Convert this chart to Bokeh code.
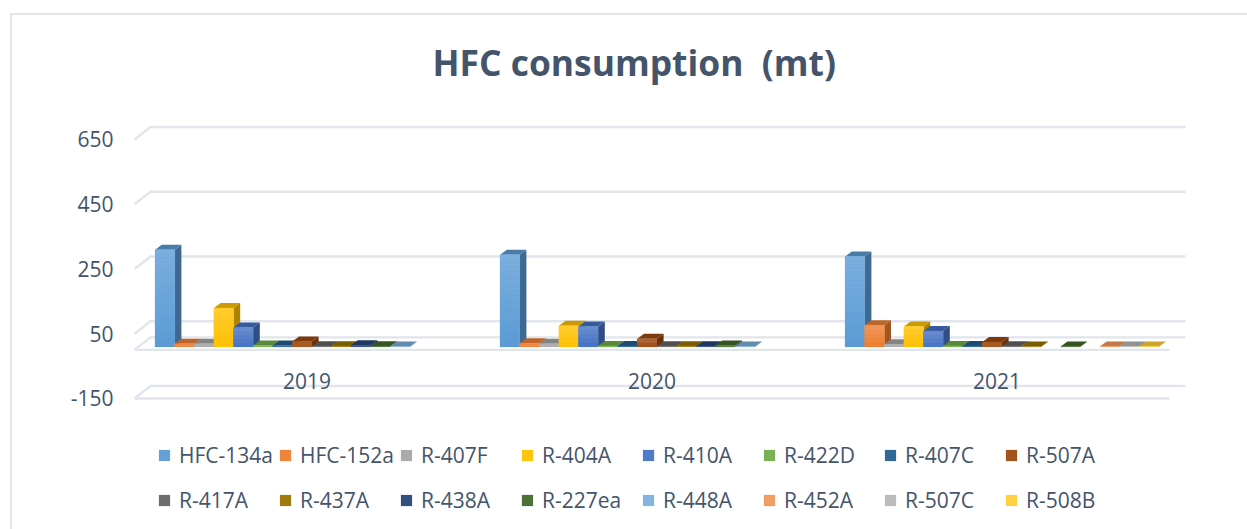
from bokeh.plotting import figure
from bokeh.embed import file_html
from bokeh.resources import INLINE
from bokeh.models import (Range1d, FixedTicker, Legend, LegendItem, LinearAxis, Title)

# ---- data -----------------------------------------------------------------
years = ["2019", "2020", "2021"]
y_ticks = [-150, 50, 250, 450, 650]
y_tick_labels = ["-150", "50", "250", "450", "650"]
title_text = "HFC consumption \u00a0(mt)"
series_names = ["HFC-134a", "HFC-152a", "R-407F", "R-404A", "R-410A", "R-422D", "R-407C", "R-507A",
                "R-417A", "R-437A", "R-438A", "R-227ea", "R-448A", "R-452A", "R-507C", "R-508B"]
hfc_134a = [300, 285, 279]
hfc_152a = [10, 11, 67]
r_407f = [10, 10, 8]
r_404a = [120, 65, 63]
r_410a = [60, 63, 49]
r_422d = [4, 3, 3]
r_407c = [4, 3, 3]
r_507a = [17, 25, 15]
r_417a = [2, 2, 2]
r_437a = [2, 2, 1]
r_438a = [5, 2, None]
r_227ea = [2, 4, 1]
r_448a = [1, 1, None]
r_452a = [None, None, 1]
r_507c = [None, None, 1]
r_508b = [None, None, 1]
all_series = [hfc_134a, hfc_152a, r_407f, r_404a, r_410a, r_422d, r_407c, r_507a,
              r_417a, r_437a, r_438a, r_227ea, r_448a, r_452a, r_507c, r_508b]
colors = ["#5B9BD5", "#ED7D31", "#A5A5A5", "#FFC000", "#4472C4", "#70AD47", "#255E91", "#9E480E",
          "#636363", "#997300", "#264478", "#43682B", "#7CAFDD", "#F1975A", "#B7B7B7", "#FFCD33"]

# ---- layout constants (page pixels) ---------------------------------------
W, H = 1247, 529
ML, MT = 130, 95
FL, FR, FT, FB = ML, W, MT, H     # frame box on the page
PX_CAT = 345.0          # pixels per category
PX_UNIT = 0.32375       # pixels per value unit
X0_PAGE, Y0_PAGE = 306.5, 349.4    # page position of category 0 / value 0 on the front plane
WALL_DX, WALL_DY = 16 / PX_CAT, 12.5 / PX_UNIT    # depth of the chart box
BAR_DX, BAR_DY = 4.9 / PX_CAT, 3.0 / PX_UNIT      # bar plane relative to the front plane
DEPTH_X, DEPTH_Y = 6.7 / PX_CAT, 5.0 / PX_UNIT    # depth of one bar
BAR_W = 19.6 / PX_CAT
TEXT = "#44546A"
GRID = "#E1E5EC"


def shade(hex_c, f, to=0):
    r, g, b = [int(hex_c[i:i + 2], 16) for i in (1, 3, 5)]
    return "#%02x%02x%02x" % tuple(int(round(c * (1 - f) + to * f)) for c in (r, g, b))


p = figure(width=W, height=H, output_backend="svg", toolbar_location=None,
           x_range=Range1d((FL - X0_PAGE) / PX_CAT, (FR - X0_PAGE) / PX_CAT),
           y_range=Range1d((Y0_PAGE - FB) / PX_UNIT, (Y0_PAGE - FT) / PX_UNIT),
           min_border_left=ML, min_border_top=MT, min_border_right=0, min_border_bottom=0,
           x_axis_location=None, y_axis_location=None)
p.grid.visible = False
p.outline_line_color = None
p.background_fill_color = None
p.border_fill_color = None

# outer chart frame: two thin strips behind the transparent canvas
line = f"linear-gradient({GRID},{GRID})"
p.styles = {
    "background-color": "white",
    "background-image": f"{line}, {line}",
    "background-repeat": "no-repeat",
    "background-size": f"2px {H - 13}px, {W - 10}px 2px",
    "background-position": "10px 13px, 10px 13px",
}

# wall / floor lines
gx, gy = [], []
for t in y_ticks + [0]:
    gx.append([-0.5, -0.5 + WALL_DX, 2.5 + WALL_DX])
    gy.append([t, t + WALL_DY, t + WALL_DY])
gx += [[-0.5, 2.5], [-0.5, 2.5]]
gy += [[0, 0], [y_ticks[0], y_ticks[0]]]
p.multi_line(gx, gy, line_color=GRID, line_width=2.4)

# bars
items_a, items_b = [], []
for k, (name, vals, col) in enumerate(zip(series_names, all_series, colors)):
    present = [(i, v) for i, v in enumerate(vals) if v is not None]
    lefts = [i + BAR_DX + (k - 8) * BAR_W for i, v in present]
    rights = [l + BAR_W for l in lefts]
    bots = [BAR_DY] * len(present)
    tops = [BAR_DY + v for i, v in present]
    if present:
        sx = [[r, r + DEPTH_X, r + DEPTH_X, r] for r in rights]
        sy = [[b, b + DEPTH_Y, t + DEPTH_Y, t] for b, t in zip(bots, tops)]
        p.patches(sx, sy, fill_color=shade(col, 0.32), line_color=None)
        tx = [[l, r, r + DEPTH_X, l + DEPTH_X] for l, r in zip(lefts, rights)]
        ty = [[t, t, t + DEPTH_Y, t + DEPTH_Y] for t in tops]
        p.patches(tx, ty, fill_color=shade(col, 0.2), line_color=None)
    base = p.quad(left=lefts, right=rights, bottom=bots, top=tops,
                  fill_color=shade(col, 0.06, 255), line_color=None)
    # vertical shading of the front faces
    ql, qr, qb, qt, qc = [], [], [], [], []
    for l, r, b, t in zip(lefts, rights, bots, tops):
        n = max(1, int(round((t - b) * PX_UNIT / 4)))
        for j in range(n):
            ql.append(l); qr.append(r)
            qb.append(b + (t - b) * j / n); qt.append(b + (t - b) * (j + 1) / n)
            qc.append(shade(col, 0.20 * (j + 0.5) / n, 255))
    if ql:
        p.quad(left=ql, right=qr, bottom=qb, top=qt, fill_color=qc, line_color=qc, line_width=0.3)
    (items_a if k < 8 else items_b).append(LegendItem(label=name, renderers=[base]))

# axes
yax = LinearAxis(ticker=FixedTicker(ticks=y_ticks),
                 major_label_overrides=dict(zip(y_ticks, y_tick_labels)),
                 axis_line_color=None, major_tick_line_color=None, minor_tick_line_color=None,
                 major_tick_in=0, major_tick_out=0, major_label_standoff=17,
                 major_label_text_color=TEXT, major_label_text_font="Open Sans",
                 major_label_text_font_size="21px")
p.add_layout(yax, "left")
xax = LinearAxis(ticker=FixedTicker(ticks=[0, 1, 2]),
                 major_label_overrides={i: y for i, y in enumerate(years)},
                 axis_line_color=None, major_tick_line_color=None, minor_tick_line_color=None,
                 major_tick_in=0, major_tick_out=0, major_label_standoff=-157,
                 major_label_text_color=TEXT, major_label_text_font="Open Sans",
                 major_label_text_font_size="21px")
p.add_layout(xax, "below")

# legends (one per row)
for items, ybot in ((items_a, 60), (items_b, 15)):
    lg = Legend(items=items, orientation="horizontal", location=(27, ybot), ncols=8,
                glyph_width=14, glyph_height=14, label_standoff=8, label_width=99, label_height=20,
                spacing=0, padding=0, margin=0, border_line_color=None, background_fill_alpha=0,
                label_text_color=TEXT, label_text_font="Open Sans", label_text_font_size="21px")
    p.add_layout(lg, "center")

t = Title(text=title_text, text_color=TEXT, text_font="Open Sans", text_font_size="35.4px",
          text_font_style="bold", align="left", offset=302, standoff=20)
p.add_layout(t, "above")

open("out.html", "w").write(file_html(p, INLINE))
